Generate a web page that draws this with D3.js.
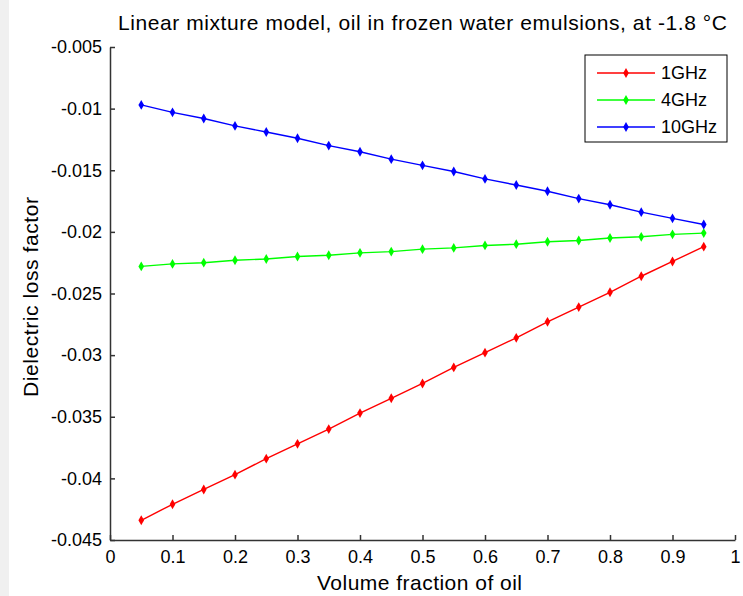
<!DOCTYPE html>
<head>
  <meta charset="utf-8">
  <title>Linear mixture model</title>
  <script src="https://d3js.org/d3.v7.min.js"></script>
  <style>
  body { margin: 0; background: #ffffff; }
  text { font-family: "Liberation Sans", Arial, sans-serif; fill: #000; }
  .axis path, .axis line { stroke: #333; stroke-width: 1.5; }
  </style>
</head>
<body>
  <script>

    // Data
    var fractions = [0.05, 0.1, 0.15, 0.2, 0.25, 0.3, 0.35, 0.4, 0.45, 0.5,
                     0.55, 0.6, 0.65, 0.7, 0.75, 0.8, 0.85, 0.9, 0.95];
    var seriesNames = ["1GHz", "4GHz", "10GHz"];
    var loss1GHz = [-0.0434, -0.0421, -0.0409, -0.0397, -0.0384, -0.0372, -0.0360, -0.0347, -0.0335, -0.0323,
                    -0.0310, -0.0298, -0.0286, -0.0273, -0.0261, -0.0249, -0.0236, -0.0224, -0.0212];
    var loss4GHz = [-0.0228, -0.0226, -0.0225, -0.0223, -0.0222, -0.0220, -0.0219, -0.0217, -0.0216, -0.0214,
                    -0.0213, -0.0211, -0.0210, -0.0208, -0.0207, -0.0205, -0.0204, -0.0202, -0.0201];
    var loss10GHz = [-0.0097, -0.0103, -0.0108, -0.0114, -0.0119, -0.0124, -0.0130, -0.0135, -0.0141, -0.0146,
                     -0.0151, -0.0157, -0.0162, -0.0167, -0.0173, -0.0178, -0.0184, -0.0189, -0.0194];
    var xTickValues = [0, 0.1, 0.2, 0.3, 0.4, 0.5, 0.6, 0.7, 0.8, 0.9, 1];
    var xTickLabels = ["0", "0.1", "0.2", "0.3", "0.4", "0.5", "0.6", "0.7", "0.8", "0.9", "1"];
    var yTickValues = [-0.045, -0.04, -0.035, -0.03, -0.025, -0.02, -0.015, -0.01, -0.005];
    var yTickLabels = ["-0.045", "-0.04", "-0.035", "-0.03", "-0.025", "-0.02", "-0.015", "-0.01", "-0.005"];

    var colors = ["#ff0000", "#00ff00", "#0000ff"];
    var allSeries = [loss1GHz, loss4GHz, loss10GHz];

    // Set margins
    var margin = {top: 47, right: 8, bottom: 56, left: 110},
      width = 743 - margin.left - margin.right,
      height = 596 - margin.top - margin.bottom;

    var svg = d3.select("body").append("svg")
      .attr("width", 743)
      .attr("height", 596);

    // light strip at the left edge
    svg.append("rect")
      .attr("x", 0).attr("y", 0)
      .attr("width", 9).attr("height", 596)
      .attr("fill", "#f0f0f0");

    var g = svg.append("g")
      .attr("transform", "translate(" + margin.left + "," + margin.top + ")");

    // Scales
    var x = d3.scaleLinear().domain([0, 1]).range([0, width]);
    var y = d3.scaleLinear().domain([-0.045, -0.005]).range([height, 0]);

    // Axes, ticks pointing inwards
    g.append("g")
      .attr("class", "axis")
      .attr("transform", "translate(0," + height + ")")
      .call(d3.axisBottom(x)
        .tickValues(xTickValues)
        .tickFormat(function(d, i) { return xTickLabels[i]; })
        .tickSizeInner(-5).tickSizeOuter(0).tickPadding(10))
      .call(function(a) { a.selectAll("text").attr("font-size", 18).attr("font-family", null); });

    g.append("g")
      .attr("class", "axis")
      .call(d3.axisLeft(y)
        .tickValues(yTickValues)
        .tickFormat(function(d, i) { return yTickLabels[i]; })
        .tickSizeInner(-5).tickSizeOuter(0).tickPadding(8))
      .call(function(a) { a.selectAll("text").attr("font-size", 18).attr("font-family", null); });

    // Lines and markers
    var line = d3.line()
      .x(function(d, i) { return x(fractions[i]); })
      .y(function(d) { return y(d); });

    var diamond = d3.symbol().type(d3.symbolDiamond).size(28);

    allSeries.forEach(function(series, k) {
      g.append("path")
        .datum(series)
        .attr("fill", "none")
        .attr("stroke", colors[k])
        .attr("stroke-width", 1.4)
        .attr("d", line);

      g.selectAll(".m" + k)
        .data(series)
        .enter().append("path")
        .attr("class", "m" + k)
        .attr("transform", function(d, i) { return "translate(" + x(fractions[i]) + "," + y(d) + ")"; })
        .attr("d", diamond)
        .attr("fill", colors[k]);
    });

    // Title
    svg.append("text")
      .attr("x", 118)
      .attr("y", 30)
      .attr("font-size", 21)
      .attr("textLength", 609)
      .attr("lengthAdjust", "spacing")
      .text("Linear mixture model, oil in frozen water emulsions, at -1.8 \u00B0C");

    // Axis labels
    svg.append("text")
      .attr("x", 317)
      .attr("y", 590)
      .attr("font-size", 21)
      .attr("textLength", 205)
      .attr("lengthAdjust", "spacing")
      .text("Volume fraction of oil");

    svg.append("text")
      .attr("transform", "translate(38,397) rotate(-90)")
      .attr("font-size", 21)
      .attr("textLength", 200)
      .attr("lengthAdjust", "spacing")
      .text("Dielectric loss factor");

    // Legend
    var legend = svg.append("g").attr("transform", "translate(585,55)");
    legend.append("rect")
      .attr("width", 142).attr("height", 87)
      .attr("fill", "#fff").attr("stroke", "#000").attr("stroke-width", 1);

    seriesNames.forEach(function(name, k) {
      var ly = 18 + k * 27;
      legend.append("line")
        .attr("x1", 12).attr("x2", 70)
        .attr("y1", ly).attr("y2", ly)
        .attr("stroke", colors[k]).attr("stroke-width", 1.4);
      legend.append("path")
        .attr("transform", "translate(41," + ly + ")")
        .attr("d", diamond)
        .attr("fill", colors[k]);
      legend.append("text")
        .attr("x", 76).attr("y", ly + 6)
        .attr("font-size", 18)
        .text(name);
    });

  </script>
</body>
</html>
